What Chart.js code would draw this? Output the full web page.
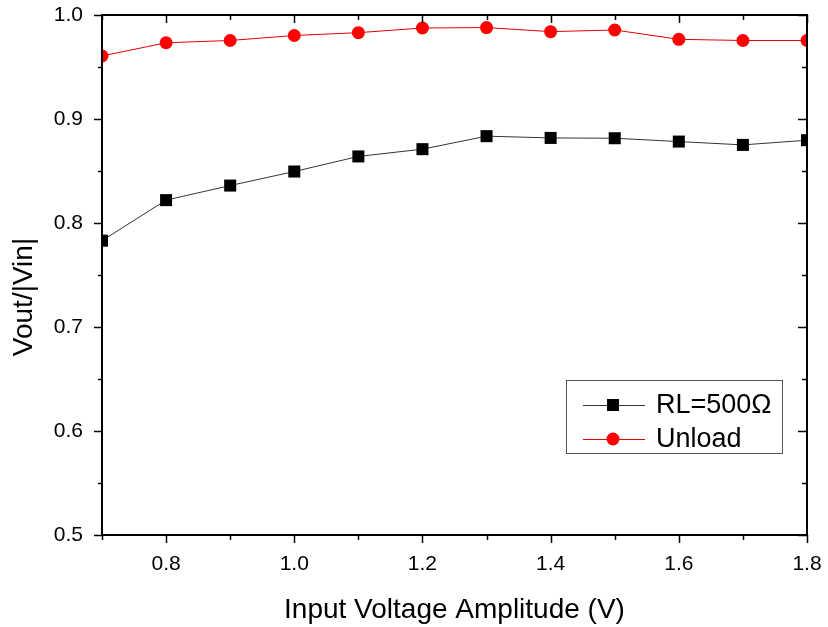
<!DOCTYPE html>
<html>
<head>
<meta charset="utf-8">
<script src="https://cdn.jsdelivr.net/npm/chart.js@4.4.1/dist/chart.umd.min.js"></script>
<style>
html,body{margin:0;padding:0;background:#fff;}
#wrap{width:828px;height:627px;position:relative;}
</style>
</head>
<body>
<div id="wrap"><canvas id="c" width="828" height="627"></canvas></div>
<script>
const xValues = [0.7, 0.8, 0.9, 1.0, 1.1, 1.2, 1.3, 1.4, 1.5, 1.6, 1.7, 1.8];
const rlValues = [0.783, 0.822, 0.836, 0.8495, 0.864, 0.871, 0.8835, 0.8818, 0.8815, 0.8783, 0.8751, 0.8796];
const unloadValues = [0.9606, 0.9733, 0.9755, 0.9803, 0.983, 0.9875, 0.9879, 0.984, 0.9856, 0.9766, 0.9755, 0.9755];
const seriesNames = ["RL=500\u03A9", "Unload"];
const xTitle = "Input Voltage Amplitude (V)";
const yTitle = "Vout/|Vin|";
const xMin = 0.7, xMax = 1.8, xStep = 0.1;
const yMin = 0.5, yMax = 1.0, yStep = 0.1;

const FONT = "'Liberation Sans', Arial, sans-serif";

const framePlugin = {
  id: 'frame',
  afterDatasetsDraw(chart) {
    const {ctx, chartArea: a, scales} = chart;
    const xs = scales.x, ys = scales.y;
    ctx.save();
    ctx.strokeStyle = '#000';
    ctx.lineWidth = 2;
    ctx.strokeRect(a.left, a.top, a.right - a.left, a.bottom - a.top);
    ctx.lineWidth = 1.5;
    ctx.beginPath();
    xs.ticks.forEach((t) => {
      const px = Math.round(xs.getPixelForValue(t.value)) + 0.5;
      const major = Math.round(t.value * 10) % 2 === 0;
      const len = major ? 8 : 5;
      ctx.moveTo(px, a.bottom); ctx.lineTo(px, a.bottom + len);
      ctx.moveTo(px, a.top); ctx.lineTo(px, a.top + len);
    });
    const yt = ys.ticks.map(t => t.value);
    yt.forEach((v, i) => {
      const py = Math.round(ys.getPixelForValue(v)) + 0.5;
      ctx.moveTo(a.left, py); ctx.lineTo(a.left - 8, py);
      ctx.moveTo(a.right, py); ctx.lineTo(a.right - 9, py);
      if (i < yt.length - 1) {
        const pm = Math.round(ys.getPixelForValue((v + yt[i + 1]) / 2)) + 0.5;
        ctx.moveTo(a.left, pm); ctx.lineTo(a.left - 4, pm);
        ctx.moveTo(a.right, pm); ctx.lineTo(a.right - 5, pm);
      }
    });
    ctx.stroke();

    // y axis title
    ctx.save();
    ctx.translate(24, 297);
    ctx.rotate(-Math.PI / 2);
    ctx.fillStyle = '#000';
    ctx.font = '28px ' + FONT;
    ctx.textAlign = 'center';
    ctx.textBaseline = 'middle';
    ctx.fillText(yTitle, 0, 0);
    ctx.restore();

    // legend
    const bx = 566, by = 380, bw = 216, bh = 73;
    ctx.lineWidth = 1;
    ctx.strokeStyle = '#555';
    ctx.fillStyle = '#fff';
    ctx.fillRect(bx, by, bw, bh);
    ctx.strokeRect(bx + 0.5, by + 0.5, bw, bh);
    const rows = [by + 25, by + 59];
    chart.data.datasets.forEach((ds, i) => {
      const y = rows[i];
      ctx.strokeStyle = ds.borderColor;
      ctx.lineWidth = 1;
      ctx.beginPath();
      ctx.moveTo(583, y + 0.5); ctx.lineTo(645, y + 0.5);
      ctx.stroke();
      ctx.fillStyle = ds.pointBackgroundColor;
      if (ds.pointStyle === 'rect') {
        ctx.fillRect(607, y - 6, 12, 12);
      } else {
        ctx.beginPath();
        ctx.arc(613, y, 6.5, 0, Math.PI * 2);
        ctx.fill();
      }
      ctx.fillStyle = '#000';
      ctx.font = '27px ' + FONT;
      ctx.textBaseline = 'middle';
      ctx.textAlign = 'left';
      ctx.fillText(ds.label, 656, y + 1);
    });
    ctx.restore();
  }
};

new Chart(document.getElementById('c'), {
  type: 'scatter',
  data: {
    datasets: [
      {
        label: seriesNames[0],
        data: xValues.map((x, i) => ({x, y: rlValues[i]})),
        showLine: true,
        borderColor: '#333',
        borderWidth: 1,
        pointStyle: 'rect',
        pointRadius: 8.5,
        pointHoverRadius: 8.5,
        pointBackgroundColor: '#000',
        pointBorderWidth: 0,
        clip: 0
      },
      {
        label: seriesNames[1],
        data: xValues.map((x, i) => ({x, y: unloadValues[i]})),
        showLine: true,
        borderColor: '#e00000',
        borderWidth: 1,
        pointStyle: 'circle',
        pointRadius: 6.5,
        pointHoverRadius: 6.5,
        pointBackgroundColor: '#ff0000',
        pointBorderWidth: 0,
        clip: 0
      }
    ]
  },
  options: {
    responsive: false,
    animation: false,
    devicePixelRatio: 1,
    layout: {padding: {top: 15, right: 21, left: 0, bottom: 0}},
    plugins: {legend: {display: false}, tooltip: {enabled: false}},
    scales: {
      x: {
        type: 'linear', min: xMin, max: xMax,
        afterFit(s) { s.height = 92; s.paddingLeft = 0; s.paddingRight = 0; s.paddingTop = 0; s.paddingBottom = 0; },
        afterBuildTicks(s) {
          const t = [];
          for (let i = 0; i <= Math.round((xMax - xMin) / xStep); i++) t.push({value: +(xMin + i * xStep).toFixed(2)});
          s.ticks = t;
        },
        grid: {display: false, drawTicks: false},
        border: {display: false},
        ticks: {
          font: {family: FONT, size: 21}, color: '#000', padding: 17,
          maxRotation: 0, autoSkip: false,
          callback: (v) => (Math.round(v * 10) % 2 === 0 ? v.toFixed(1) : '')
        },
        title: {display: true, text: xTitle, font: {family: FONT, size: 28}, color: '#000', padding: {top: 12, bottom: 0}}
      },
      y: {
        type: 'linear', min: yMin, max: yMax,
        afterFit(s) { s.width = 102; s.paddingLeft = 0; s.paddingRight = 0; s.paddingTop = 0; s.paddingBottom = 0; },
        ticks: {
          stepSize: yStep, font: {family: FONT, size: 21}, color: '#000', padding: 19,
          callback: (v) => v.toFixed(1)
        },
        grid: {display: false, drawTicks: false},
        border: {display: false},
        title: {display: false}
      }
    }
  },
  plugins: [framePlugin]
});
</script>
</body>
</html>
